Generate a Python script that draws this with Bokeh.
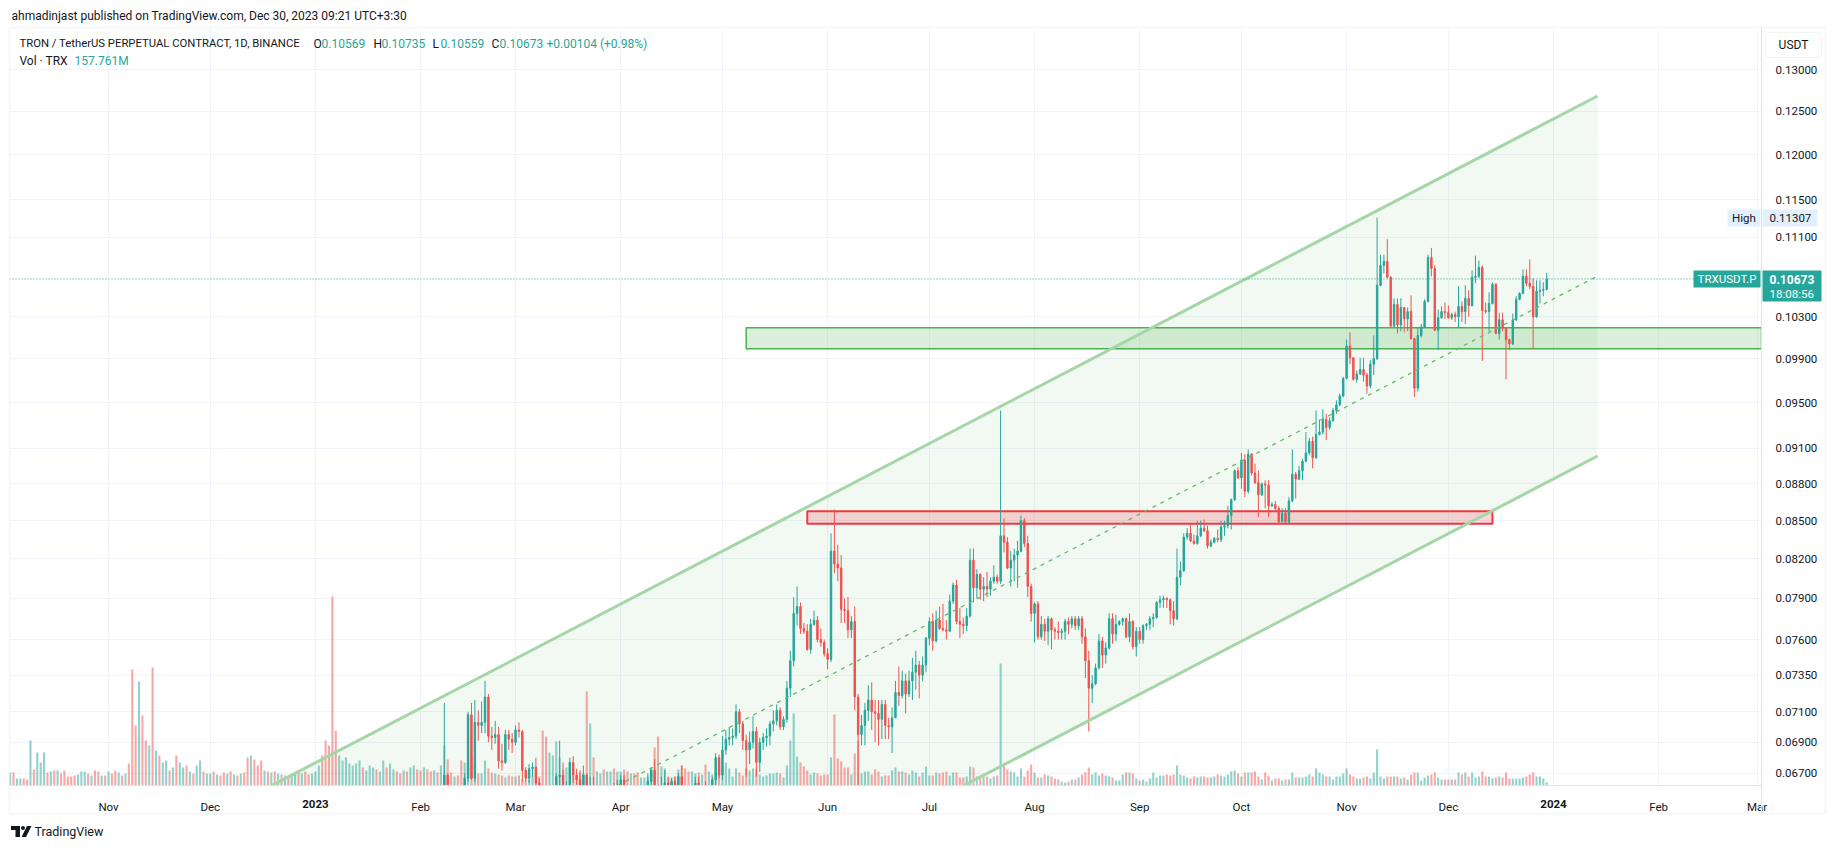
import math
import datetime as dt
from bokeh.plotting import figure
from bokeh.models import (Range1d, LinearScale, LinearAxis, FixedTicker, PrintfTickFormatter,
                          Label, BoxAnnotation, PolyAnnotation, ColumnDataSource)
from bokeh.embed import file_html
from bokeh.resources import INLINE

# ---------------- data ----------------
month_ticks = ["2022-11-01", "2022-12-01", "2023-01-01", "2023-02-01", "2023-03-01", "2023-04-01",
               "2023-05-01", "2023-06-01", "2023-07-01", "2023-08-01", "2023-09-01", "2023-10-01",
               "2023-11-01", "2023-12-01", "2024-01-01", "2024-02-01", "2024-03-01"]
month_labels = ["Nov", "Dec", "2023", "Feb", "Mar", "Apr", "May", "Jun", "Jul", "Aug", "Sep", "Oct",
                "Nov", "Dec", "2024", "Feb", "Mar"]
price_ticks = [0.067, 0.069, 0.071, 0.0735, 0.076, 0.079, 0.082, 0.085, 0.088, 0.091, 0.095,
               0.099, 0.103, 0.111, 0.115, 0.120, 0.125, 0.130]

# daily volume in millions of TRX, from 2022-10-03
volume_start = "2022-10-03"
volume = [
    650, 650, 350, 350, 350, 300, 2250, 800, 1650, 1150, 1650, 650, 700, 750, 750, 600, 750, 450, 450, 500,
    550, 700, 700, 600, 500, 750, 700, 500, 500,
    700, 600, 750, 650, 500, 600, 1100, 5800, 3000, 5200, 3500, 2250, 2000, 5900, 1750, 1500, 1150, 1250, 750, 900,
    1500, 1150, 900, 1000, 700, 600, 1000, 1250, 700, 600,
    600, 700, 550, 500, 650, 600, 700, 550, 500, 600, 650, 1400, 1500, 1300, 1000, 1250, 750, 700, 650, 700,
    600, 550, 500, 450, 500, 600, 750, 600, 700, 550, 600,
    700, 1000, 1500, 2250, 2000, 9450, 2750, 1500, 1250, 1400, 1100, 1000, 1100, 1250, 900, 750, 1000, 900, 800, 700,
    1250, 900, 1100, 800, 700, 600, 750, 700, 900, 1000, 800,
    750, 900, 800, 700, 750, 650, 1000, 2000, 1300, 650, 450, 500, 1250, 1150, 1150, 1550, 1000, 600, 600, 1250,
    850, 650, 600, 550, 500, 400, 500, 450,
    450, 500, 300, 250, 300, 500, 550, 450, 2750, 2450, 1650, 1500, 2200, 1400, 800, 900, 1150, 650, 350, 650,
    600, 4700, 3100, 1400, 700, 600, 800, 700, 700, 850, 700,
    700, 800, 700, 600, 600, 650, 400, 400, 450, 850, 1900, 2450, 950, 850, 400, 400, 450, 800, 1000, 850,
    700, 700, 600, 650, 550, 1050, 700, 550, 700, 950,
    800, 1150, 850, 450, 850, 650, 500, 850, 750, 850, 850, 550, 450, 500, 600, 600, 650, 600, 400, 1000,
    2250, 3600, 1450, 1150, 950, 750, 550, 650, 600, 500, 550,
    550, 1400, 3550, 1350, 1200, 900, 900, 550, 1600, 2250, 600, 700, 700, 550, 800, 700, 450, 500, 500, 750,
    900, 700, 700, 650, 550, 750, 650, 450, 650, 950,
    500, 500, 650, 600, 650, 700, 500, 650, 650, 400, 400, 450, 950, 900, 450, 450, 450, 450, 350, 450,
    500, 6100, 1100, 800, 700, 650, 450, 850, 450, 750, 1050,
    650, 400, 400, 550, 500, 450, 350, 300, 200, 150, 200, 300, 300, 400, 550, 650, 900, 550, 650, 500,
    600, 500, 450, 400, 250, 250, 550, 650, 650, 600, 350,
    250, 300, 200, 350, 650, 400, 500, 500, 550, 500, 550, 1000, 550, 500, 400, 350, 450, 400, 450, 450,
    400, 400, 450, 550, 500, 450, 550, 700, 750, 600,
    450, 650, 650, 650, 700, 450, 300, 650, 500, 250, 350, 350, 250, 300, 300, 650, 400, 400, 400, 450,
    550, 450, 850, 650, 550, 450, 450, 300, 450, 450, 600,
    850, 550, 450, 350, 350, 400, 450, 350, 650, 1800, 450, 350, 450, 450, 450, 450, 350, 400, 300, 550,
    650, 650, 250, 400, 500, 550, 650, 400, 300, 300,
    300, 300, 300, 650, 550, 650, 450, 650, 400, 450, 700, 450, 450, 350, 400, 450, 400, 650, 350, 350,
    350, 350, 400, 450, 550, 650, 450, 450, 350, 157.761,
]
# up (+) / down (-) colour of the volume bars before the first visible candle
early_direction = ("+-++--+-++" "+-+-+-----" "+++-+--+-"
                   "+--+-+---+" "--+-+-++-+" "-++-+-++-+"
                   "+-+--+-+-+" "--+---+-+-" "+-+-++-+--+"
                   "++-----+++" "++++-+++-+" "+-++--+-++-"
                   "-+--+-")

# daily candles from 2023-02-07 (each day opens at the previous close)
candle_start = "2023-02-07"
first_open = 0.0640
close = [
    0.0650, 0.0669, 0.0648, 0.0638, 0.0640, 0.0639, 0.0632, 0.0667, 0.0708, 0.0667, 0.0703, 0.0701, 0.0703, 0.0720,
    0.0694, 0.0693, 0.0695, 0.0678, 0.0677, 0.0695, 0.0692, 0.0690,
    0.0698, 0.0697, 0.0672, 0.0667, 0.0673, 0.0674, 0.0664, 0.0655, 0.0628, 0.0615, 0.0622, 0.0640, 0.0668, 0.0669,
    0.0655, 0.0662, 0.0677, 0.0669, 0.0666, 0.0657, 0.0669, 0.0648, 0.0662, 0.0650, 0.0652, 0.0655, 0.0645, 0.0652,
    0.0658, 0.0655, 0.0659,
    0.0666, 0.0658, 0.0648, 0.0655, 0.0652, 0.0650, 0.0652, 0.0656, 0.0665, 0.0672, 0.0655, 0.0645, 0.0662, 0.0664,
    0.0660, 0.0665, 0.0659, 0.0668, 0.0650, 0.0648, 0.0640, 0.0647, 0.0664, 0.0652, 0.0657, 0.0650, 0.0655, 0.0666,
    0.0680, 0.0669,
    0.0685, 0.0692, 0.0693, 0.0694, 0.0710, 0.0702, 0.0691, 0.0685, 0.0690, 0.0697, 0.0677, 0.0690, 0.0693, 0.0694,
    0.0702, 0.0704, 0.0711, 0.0700, 0.0705, 0.0726, 0.0745, 0.0779, 0.0784, 0.0768, 0.0766, 0.0753, 0.0771, 0.0774,
    0.0760, 0.0758, 0.0750,
    0.0746, 0.0826, 0.0816, 0.0813, 0.0782, 0.0781, 0.0767, 0.0773, 0.0720, 0.0695, 0.0701, 0.0711, 0.0718, 0.0710,
    0.0709, 0.0705, 0.0715, 0.0701, 0.0700, 0.0706, 0.0723, 0.0721, 0.0731, 0.0722, 0.0731, 0.0737, 0.0742, 0.0735,
    0.0742, 0.0761,
    0.0773, 0.0759, 0.0774, 0.0768, 0.0767, 0.0766, 0.0788, 0.0800, 0.0773, 0.0771, 0.0770, 0.0777, 0.0819, 0.0798,
    0.0808, 0.0797, 0.0799, 0.0797, 0.0803, 0.0806, 0.0803, 0.0838, 0.0833, 0.0813, 0.0819, 0.0823, 0.0826, 0.0850,
    0.0832, 0.0799, 0.0779,
    0.0786, 0.0762, 0.0771, 0.0766, 0.0775, 0.0767, 0.0766, 0.0765, 0.0766, 0.0773, 0.0771, 0.0775, 0.0770, 0.0775,
    0.0762, 0.0745, 0.0726, 0.0729, 0.0740, 0.0759, 0.0749, 0.0754, 0.0775, 0.0764, 0.0771, 0.0773, 0.0775, 0.0762,
    0.0773, 0.0755, 0.0766,
    0.0760, 0.0770, 0.0771, 0.0775, 0.0776, 0.0787, 0.0789, 0.0790, 0.0789, 0.0781, 0.0775, 0.0806, 0.0811, 0.0837,
    0.0840, 0.0834, 0.0832, 0.0838, 0.0844, 0.0842, 0.0830, 0.0833, 0.0836, 0.0835, 0.0845, 0.0846, 0.0854, 0.0867,
    0.0891, 0.0885,
    0.0900, 0.0874, 0.0905, 0.0889, 0.0881, 0.0871, 0.0880, 0.0879, 0.0862, 0.0863, 0.0860, 0.0849, 0.0856, 0.0849,
    0.0866, 0.0888, 0.0884, 0.0891, 0.0899, 0.0906, 0.0916, 0.0902, 0.0922, 0.0924, 0.0935, 0.0928, 0.0934, 0.0943,
    0.0948, 0.0956, 0.0972,
    0.1002, 0.0991, 0.0971, 0.0976, 0.0980, 0.0975, 0.0965, 0.0985, 0.0990, 0.1061, 0.1081, 0.1085, 0.1069, 0.1021,
    0.1042, 0.1022, 0.1039, 0.1028, 0.1035, 0.1009, 0.0963, 0.1012, 0.1020, 0.1045, 0.1089, 0.1078, 0.1017, 0.1029,
    0.1035, 0.1034,
    0.1029, 0.1032, 0.1030, 0.1040, 0.1035, 0.1048, 0.1041, 0.1069, 0.1070, 0.1079, 0.1036, 0.1035, 0.1043, 0.1062,
    0.1014, 0.1027, 0.1019, 0.1008, 0.1004, 0.1027, 0.1047, 0.1053, 0.1070, 0.1063, 0.1060, 0.1030, 0.1055, 0.1056,
    0.10569, 0.10673,
]
high = [
    0.0655, 0.0716, 0.0670, 0.0652, 0.0645, 0.0648, 0.0645, 0.0670, 0.0710, 0.0716, 0.0718, 0.0711, 0.0717, 0.0731,
    0.0722, 0.0700, 0.0704, 0.0700, 0.0689, 0.0698, 0.0698, 0.0696,
    0.0701, 0.0703, 0.0698, 0.0674, 0.0676, 0.0677, 0.0680, 0.0667, 0.0658, 0.0632, 0.0628, 0.0645, 0.0670, 0.0691,
    0.0677, 0.0665, 0.0680, 0.0681, 0.0673, 0.0672, 0.0675, 0.0670, 0.0668, 0.0668, 0.0658, 0.0660, 0.0658, 0.0655,
    0.0662, 0.0664, 0.0666,
    0.0669, 0.0669, 0.0662, 0.0660, 0.0662, 0.0658, 0.0656, 0.0660, 0.0670, 0.0674, 0.0679, 0.0662, 0.0668, 0.0672,
    0.0668, 0.0667, 0.0668, 0.0670, 0.0675, 0.0662, 0.0655, 0.0650, 0.0668, 0.0668, 0.0660, 0.0665, 0.0660, 0.0668,
    0.0683, 0.0682,
    0.0694, 0.0698, 0.0700, 0.0699, 0.0715, 0.0712, 0.0704, 0.0695, 0.0697, 0.0707, 0.0700, 0.0693, 0.0696, 0.0699,
    0.0704, 0.0711, 0.0715, 0.0713, 0.0707, 0.0731, 0.0752, 0.0791, 0.0799, 0.0787, 0.0772, 0.0771, 0.0775, 0.0781,
    0.0777, 0.0768, 0.0760,
    0.0754, 0.0840, 0.0859, 0.0831, 0.0823, 0.0790, 0.0791, 0.0777, 0.0784, 0.0722, 0.0708, 0.0716, 0.0728, 0.0730,
    0.0718, 0.0718, 0.0718, 0.0718, 0.0706, 0.0713, 0.0731, 0.0741, 0.0738, 0.0736, 0.0738, 0.0747, 0.0752, 0.0745,
    0.0748, 0.0762,
    0.0776, 0.0779, 0.0781, 0.0784, 0.0786, 0.0774, 0.0793, 0.0802, 0.0804, 0.0783, 0.0776, 0.0783, 0.0828, 0.0828,
    0.0812, 0.0809, 0.0806, 0.0810, 0.0806, 0.0815, 0.0808, 0.0943, 0.0852, 0.0837, 0.0826, 0.0828, 0.0834, 0.0854,
    0.0852, 0.0838, 0.0801,
    0.0787, 0.0788, 0.0777, 0.0775, 0.0777, 0.0776, 0.0769, 0.0773, 0.0768, 0.0775, 0.0776, 0.0777, 0.0777, 0.0777,
    0.0777, 0.0768, 0.0752, 0.0735, 0.0743, 0.0764, 0.0762, 0.0758, 0.0779, 0.0779, 0.0778, 0.0774, 0.0776, 0.0776,
    0.0779, 0.0774, 0.0769,
    0.0769, 0.0771, 0.0772, 0.0777, 0.0779, 0.0788, 0.0792, 0.0792, 0.0791, 0.0790, 0.0788, 0.0828, 0.0818, 0.0840,
    0.0844, 0.0847, 0.0839, 0.0850, 0.0850, 0.0851, 0.0846, 0.0835, 0.0837, 0.0843, 0.0850, 0.0850, 0.0862, 0.0868,
    0.0892, 0.0894,
    0.0906, 0.0905, 0.0909, 0.0906, 0.0897, 0.0891, 0.0881, 0.0883, 0.0883, 0.0865, 0.0866, 0.0862, 0.0860, 0.0860,
    0.0869, 0.0909, 0.0890, 0.0895, 0.0901, 0.0924, 0.0919, 0.0920, 0.0943, 0.0935, 0.0944, 0.0940, 0.0937, 0.0945,
    0.0952, 0.0958, 0.0973,
    0.1008, 0.1015, 0.0991, 0.0979, 0.0991, 0.0991, 0.0977, 0.0989, 0.1012, 0.11307, 0.1092, 0.1092, 0.1108, 0.1070,
    0.1048, 0.1048, 0.1048, 0.1039, 0.1039, 0.1051, 0.1010, 0.1020, 0.1023, 0.1047, 0.1092, 0.1099, 0.1081, 0.1037,
    0.1040, 0.1044,
    0.1041, 0.1034, 0.1035, 0.1060, 0.1045, 0.1061, 0.1056, 0.1076, 0.1091, 0.1086, 0.1081, 0.1044, 0.1054, 0.1064,
    0.1063, 0.1034, 0.1034, 0.1020, 0.1009, 0.1033, 0.1050, 0.1054, 0.1077, 0.1077, 0.1087, 0.1068, 0.1066, 0.1066,
    0.1064, 0.10735,
]
low = [
    0.0632, 0.0648, 0.0640, 0.0630, 0.0632, 0.0634, 0.0622, 0.0628, 0.0665, 0.0666, 0.0665, 0.0691, 0.0696, 0.0696,
    0.0690, 0.0685, 0.0689, 0.0673, 0.0672, 0.0676, 0.0685, 0.0683,
    0.0688, 0.0693, 0.0665, 0.0665, 0.0664, 0.0668, 0.0660, 0.0650, 0.0620, 0.0600, 0.0590, 0.0615, 0.0635, 0.0660,
    0.0650, 0.0648, 0.0658, 0.0664, 0.0660, 0.0650, 0.0655, 0.0640, 0.0640, 0.0645, 0.0643, 0.0646, 0.0640, 0.0640,
    0.0648, 0.0650, 0.0652,
    0.0655, 0.0652, 0.0640, 0.0645, 0.0648, 0.0645, 0.0645, 0.0648, 0.0650, 0.0660, 0.0650, 0.0635, 0.0640, 0.0655,
    0.0656, 0.0655, 0.0654, 0.0656, 0.0640, 0.0640, 0.0635, 0.0636, 0.0643, 0.0645, 0.0645, 0.0640, 0.0645, 0.0650,
    0.0662, 0.0667,
    0.0666, 0.0682, 0.0688, 0.0688, 0.0692, 0.0696, 0.0685, 0.0668, 0.0676, 0.0686, 0.0668, 0.0671, 0.0685, 0.0687,
    0.0688, 0.0697, 0.0701, 0.0698, 0.0698, 0.0703, 0.0720, 0.0741, 0.0770, 0.0764, 0.0764, 0.0752, 0.0750, 0.0770,
    0.0758, 0.0755, 0.0748,
    0.0739, 0.0744, 0.0809, 0.0803, 0.0772, 0.0772, 0.0761, 0.0761, 0.0711, 0.0655, 0.0688, 0.0688, 0.0704, 0.0698,
    0.0690, 0.0688, 0.0692, 0.0692, 0.0692, 0.0683, 0.0706, 0.0714, 0.0719, 0.0709, 0.0720, 0.0718, 0.0725, 0.0719,
    0.0731, 0.0737,
    0.0756, 0.0752, 0.0758, 0.0767, 0.0766, 0.0760, 0.0766, 0.0786, 0.0771, 0.0761, 0.0764, 0.0766, 0.0776, 0.0787,
    0.0790, 0.0789, 0.0788, 0.0791, 0.0792, 0.0801, 0.0801, 0.0801, 0.0825, 0.0812, 0.0799, 0.0803, 0.0798, 0.0825,
    0.0829, 0.0791, 0.0773,
    0.0758, 0.0760, 0.0760, 0.0759, 0.0756, 0.0753, 0.0760, 0.0760, 0.0760, 0.0760, 0.0764, 0.0768, 0.0767, 0.0767,
    0.0757, 0.0733, 0.0697, 0.0716, 0.0728, 0.0739, 0.0740, 0.0743, 0.0753, 0.0757, 0.0759, 0.0770, 0.0770, 0.0761,
    0.0758, 0.0753, 0.0748,
    0.0757, 0.0757, 0.0767, 0.0767, 0.0769, 0.0775, 0.0783, 0.0783, 0.0783, 0.0771, 0.0770, 0.0774, 0.0800, 0.0810,
    0.0835, 0.0833, 0.0831, 0.0831, 0.0837, 0.0841, 0.0828, 0.0829, 0.0832, 0.0833, 0.0833, 0.0838, 0.0844, 0.0843,
    0.0866, 0.0884,
    0.0876, 0.0869, 0.0872, 0.0887, 0.0880, 0.0853, 0.0870, 0.0860, 0.0853, 0.0861, 0.0857, 0.0848, 0.0849, 0.0848,
    0.0848, 0.0865, 0.0868, 0.0883, 0.0883, 0.0898, 0.0904, 0.0893, 0.0901, 0.0921, 0.0922, 0.0917, 0.0926, 0.0933,
    0.0940, 0.0947, 0.0955,
    0.0971, 0.0985, 0.0970, 0.0968, 0.0975, 0.0969, 0.0958, 0.0963, 0.0975, 0.0989, 0.1060, 0.1073, 0.1068, 0.1020,
    0.1020, 0.1014, 0.1016, 0.1015, 0.1016, 0.1008, 0.0955, 0.0960, 0.1010, 0.1019, 0.1044, 0.1070, 0.1016, 0.0998,
    0.1028, 0.1028,
    0.1028, 0.1027, 0.1025, 0.1019, 0.1025, 0.1023, 0.1030, 0.1040, 0.1063, 0.1068, 0.0988, 0.1033, 0.1016, 0.1042,
    0.1013, 0.1008, 0.1016, 0.0971, 0.0998, 0.1003, 0.1026, 0.1046, 0.1052, 0.1060, 0.1057, 0.0999, 0.1029, 0.1043,
    0.1050, 0.10559,
]

# drawings
channel_dates = ["2022-12-01", "2024-01-14"]
channel_top = [0.06428, 0.12680]
channel_bottom = [0.04580, 0.09034]
support_zone = {"start": "2023-05-08", "bottom": 0.09994, "top": 0.10193}
resistance_zone = {"start": "2023-05-26", "end": "2023-12-14", "bottom": 0.08476, "top": 0.08577}
countdown = "18:08:56"

# ---------------- page geometry (screenshot pixels) ----------------
W, H = 1827, 841
X_JAN1, PX_PER_DAY = 1553.0, 3.392          # x of 2024-01-01, pixels per day
Y_013, PX_PER_LN = 69.0, 1062.0             # y of price 0.13, pixels per ln-unit
CHART_L, CHART_T, CHART_R, CHART_B = 9, 29, 1761, 785
REF = dt.date(2024, 1, 1)


def day(s):
    return (dt.date.fromisoformat(s) - REF).days


def xd(X):          # page x -> day number
    return (X - X_JAN1) / PX_PER_DAY


def yp(Y):          # page y -> price
    return 0.13 * math.exp(-(Y - Y_013) / PX_PER_LN)


# ---------------- build ----------------
UP, DOWN = "#26a69a", "#ef5350"
open_ = [first_open] + close[:-1]
c0 = day(candle_start)
cx = [c0 + i for i in range(len(close))]
ccol = [UP if c >= o else DOWN for o, c in zip(open_, close)]
csrc = ColumnDataSource(dict(x=cx, o=open_, h=high, l=low, c=close,
                             top=[max(o, c) for o, c in zip(open_, close)],
                             bot=[min(o, c) for o, c in zip(open_, close)], col=ccol))

v0 = day(volume_start)
vx = [v0 + i for i in range(len(volume))]
vcol = [UP if d == "+" else DOWN for d in early_direction] + ccol
vsrc = ColumnDataSource(dict(x=vx, v=volume, col=vcol[:len(volume)]))
vol_per_px = max(volume) / 189.0

p = figure(width=W, height=H, output_backend="svg", toolbar_location=None,
           x_range=Range1d(xd(0), xd(W)), y_range=Range1d(yp(H), yp(0)),
           y_axis_type="log", y_axis_location="right",
           min_border=0, min_border_left=0, min_border_right=0, min_border_top=0, min_border_bottom=0,
           extra_y_ranges={"vol": Range1d(-(H - CHART_B) * vol_per_px, CHART_B * vol_per_px)},
           extra_y_scales={"vol": LinearScale()})
p.background_fill_color = "white"
p.border_fill_color = "white"
p.outline_line_color = None

tick_days = [day(t) for t in month_ticks]
p.xaxis.ticker = FixedTicker(ticks=tick_days)
p.xaxis.major_label_overrides = {d: ("" if lab.isdigit() else lab) for d, lab in zip(tick_days, month_labels)}
p.xaxis.fixed_location = yp(CHART_B)
p.xaxis.bounds = (xd(CHART_L), xd(CHART_R))
p.yaxis.ticker = FixedTicker(ticks=price_ticks)
p.yaxis.formatter = PrintfTickFormatter(format="%.5f")
p.yaxis.fixed_location = xd(CHART_R)
p.yaxis.bounds = (yp(813), yp(27))
for ax in (p.xaxis, p.yaxis):
    ax.axis_line_color = "#e0e3eb"
    ax.major_tick_line_color = None
    ax.minor_tick_line_color = None
    ax.major_label_text_font = "Roboto"
    ax.major_label_text_font_size = "11.5px"
    ax.major_label_text_color = "#131722"
    ax.major_label_standoff = 8
# year labels in bold on a second time axis
year_days = [d for d, lab in zip(tick_days, month_labels) if lab.isdigit()]
year_axis = LinearAxis(ticker=FixedTicker(ticks=year_days),
                       major_label_overrides={d: lab for d, lab in zip(tick_days, month_labels) if lab.isdigit()},
                       fixed_location=yp(CHART_B), axis_line_color=None, major_tick_line_color=None,
                       minor_tick_line_color=None, major_label_text_font="Roboto",
                       major_label_text_font_size="11.5px", major_label_text_font_style="bold",
                       major_label_text_color="#131722", major_label_standoff=8)
p.add_layout(year_axis, "below")
p.xgrid.grid_line_color = "#f0f3fa"
p.ygrid.grid_line_color = "#f0f3fa"

# parallel channel fill
chx = [day(d) for d in channel_dates]
p.patch([chx[0], chx[1], chx[1], chx[0]],
        [channel_top[0], channel_top[1], channel_bottom[1], channel_bottom[0]],
        fill_color="#4caf50", fill_alpha=0.075, line_color=None)
mid = [(a * b) ** 0.5 for a, b in zip(channel_top, channel_bottom)]

# zones
p.quad(left=[day(support_zone["start"])], right=[xd(CHART_R)], bottom=[support_zone["bottom"]],
       top=[support_zone["top"]], fill_color="#4caf50", fill_alpha=0.2, line_color="#4caf50", line_width=1.5)
p.quad(left=[day(resistance_zone["start"])], right=[day(resistance_zone["end"])],
       bottom=[resistance_zone["bottom"]], top=[resistance_zone["top"]],
       fill_color="#f23645", fill_alpha=0.2, line_color="#f23645", line_width=2)

# volume
p.vbar(x="x", top="v", bottom=0, width=0.62, source=vsrc, y_range_name="vol",
       fill_color="col", fill_alpha=0.5, line_color=None)

# candles
p.segment(x0="x", y0="l", x1="x", y1="h", source=csrc, line_color="col", line_width=1)
p.vbar(x="x", top="top", bottom="bot", width=0.42, source=csrc, fill_color="col", line_color="col", line_width=1)

# channel lines
p.line(chx, channel_top, line_color="#a5d6a7", line_width=3)
p.line(chx, channel_bottom, line_color="#a5d6a7", line_width=3)
p.line(chx, mid, line_color="#66bb6a", line_width=1.3, line_dash="4 5")

# last price line
last = close[-1]
p.line([xd(CHART_L), xd(CHART_R)], [last, last], line_color=UP, line_width=1, line_dash="1 2")

# white masks outside the chart pane (price scale, time scale, margins)
xl, xr, yb, yt = xd(-5), xd(W + 5), yp(H + 5), yp(-5)
p.quad(left=[xl, xl, xl, xd(CHART_R)], right=[xr, xd(CHART_L), xr, xr],
       bottom=[yp(CHART_T), yb, yb, yb], top=[yt, yt, yp(CHART_B), yt],
       fill_color="white", line_color=None)


# ---------------- texts and badges ----------------
def add_text(X, Y, text, size="12px", color="#131722", align="left", style="normal"):
    p.add_layout(Label(x=X, y=H - Y, x_units="screen", y_units="screen", text=text,
                       text_font="Roboto", text_font_size=size, text_color=color,
                       text_align=align, text_baseline="middle", text_font_style=style))


def add_box(Xa, Ya, Xb, Yb, fill=None, line=None, radius=0, lw=1):
    p.add_layout(BoxAnnotation(left=Xa, right=Xb, top=H - Ya, bottom=H - Yb,
                               left_units="screen", right_units="screen",
                               top_units="screen", bottom_units="screen",
                               fill_color=fill, fill_alpha=1.0 if fill else 0.0,
                               line_color=line, line_width=lw, border_radius=radius))


# outer chart border
add_box(9, 27, 1825, 813, fill=None, line="#e0e3eb", lw=2)

add_text(11, 15, "ahmadinjast published on TradingView.com, Dec 30, 2023 09:21 UTC+3:30")
add_text(19, 43, "TRON / TetherUS PERPETUAL CONTRACT, 1D, BINANCE", size="11.3px")
o_, h_, l_, c_ = open_[-1], high[-1], low[-1], close[-1]
chg = c_ - close[-2]
for X, key, val in [(313, "O", o_), (373, "H", h_), (432, "L", l_), (491, "C", c_)]:
    add_text(X, 43, key)
    add_text(X + 8, 43, f"{val:.5f}", color=UP)
add_text(546, 43, f"{chg:+.5f} ({chg / close[-2] * 100:+.2f}%)", color=UP)
add_text(19, 60, "Vol · TRX")
add_text(74, 60, f"{volume[-1]:.3f}M", color=UP)

# price-scale badges
add_box(1765, 32, 1821, 57, fill="white", line="#d1d4dc", radius=4)
add_text(1793, 44.5, "USDT", align="center")
add_box(1727, 209, 1760, 226, fill="#e3effd")
add_text(1743.5, 217.5, "High", size="11.5px", align="center")
add_box(1762, 209, 1817, 226, fill="#e3effd")
add_text(1769, 217.5, f"{max(high):.5f}", size="11.5px")
add_box(1693, 270, 1760, 287, fill=UP)
add_text(1726.5, 278.5, "TRXUSDT.P", size="11.5px", color="white", align="center")
add_box(1762, 270, 1821, 301, fill=UP)
add_text(1769, 278.5, f"{last:.5f}", size="12px", color="white", style="bold")
add_text(1769, 293, countdown, size="11.5px", color="white")

# TradingView footer
add_box(10.5, 825.5, 19.5, 829.5, fill="#131722")
add_box(15, 825.5, 19.5, 836.5, fill="#131722")
add_box(20.5, 825.5, 24.5, 829.5, fill="#131722", radius=2)
p.add_layout(PolyAnnotation(xs=[26.5, 31, 25.5, 21], ys=[H - 825.5, H - 825.5, H - 836.5, H - 836.5],
                            xs_units="screen", ys_units="screen", fill_color="#131722", fill_alpha=1.0,
                            line_color=None))
add_text(34, 831, "TradingView", size="12.5px")

open("out.html", "w").write(file_html(p, INLINE))
